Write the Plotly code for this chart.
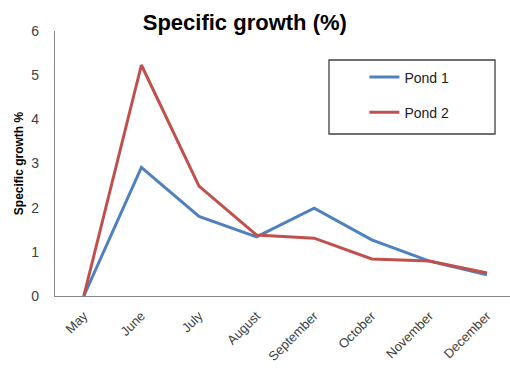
import plotly.graph_objects as go

months = ["May", "June", "July", "August", "September", "October", "November", "December"]
pond1 = [0, 2.91, 1.80, 1.34, 1.99, 1.27, 0.79, 0.48]
pond2 = [0, 5.23, 2.49, 1.38, 1.31, 0.84, 0.79, 0.52]
y_ticks = [0, 1, 2, 3, 4, 5, 6]

BLUE = "#4F81BD"
RED = "#C0504D"
FONT = "Liberation Sans, Arial, sans-serif"

fig = go.Figure()
fig.add_trace(go.Scatter(x=months, y=pond1, name="Pond 1", mode="lines",
                         line=dict(color=BLUE, width=3), legendgroup="a"))
fig.add_trace(go.Scatter(x=months, y=pond2, name="Pond 2", mode="lines",
                         line=dict(color=RED, width=3), legendgroup="b"))

fig.update_layout(
    width=510, height=374,
    margin=dict(l=55, r=0, t=31, b=78),
    paper_bgcolor="white", plot_bgcolor="white",
    font=dict(family=FONT, color="#404040"),
    title=dict(text="<b>Specific growth (%)</b>", x=0.48, xanchor="center",
               y=0.94, yanchor="middle",
               font=dict(size=22, color="black", family=FONT)),
    showlegend=True,
    legend=dict(x=0.68, y=0.885, xanchor="left", yanchor="top",
                bgcolor="rgba(0,0,0,0)", borderwidth=0,
                font=dict(size=14, color="#202020"),
                tracegroupgap=14, itemwidth=30),
    shapes=[dict(type="rect", xref="paper", yref="paper",
                 x0=(329 - 55) / 455, x1=(495 - 55) / 455,
                 y0=(296 - 134) / 265, y1=(296 - 60) / 265,
                 line=dict(color="#404040", width=1.3), fillcolor="rgba(0,0,0,0)")],
)

fig.update_xaxes(
    type="category", range=[-0.5, 7.4],
    showline=True, linecolor="#868686", linewidth=1.3,
    showgrid=False, ticks="", tickangle=-45, ticklabelstandoff=6,
    tickfont=dict(size=13, color="#404040"),
)
fig.update_yaxes(
    range=[0, 6], tickvals=y_ticks,
    showline=True, linecolor="#868686", linewidth=1.3,
    showgrid=False, zeroline=False, ticks="", ticklabelstandoff=12,
    tickfont=dict(size=14, color="#404040"),
    title=dict(text="<b>Specific growth %</b>", font=dict(size=12, color="black"), standoff=5),
)

fig.write_html("out.html")
